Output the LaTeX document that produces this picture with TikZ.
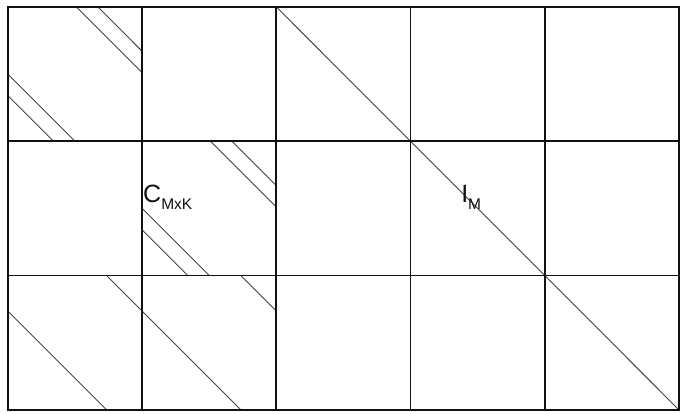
\documentclass[tikz,border=0pt]{standalone}
\usepackage{fontspec}
\setmainfont{Liberation Sans}
\definecolor{ink}{HTML}{111111}
\definecolor{mute}{HTML}{444444}
\tikzset{
  cell/.style = {draw=ink, line width=1.8pt},
  band/.style = {draw=mute, line width=0.9pt},
  lbl/.style  = {anchor=base west, inner sep=0pt, text=ink,
                 font=\fontsize{25}{30}\selectfont},
}
\newcommand{\lowsub}[1]{\raisebox{-7pt}{\fontsize{15.5}{18}\selectfont #1}}

\begin{document}
\begin{tikzpicture}[x=134.2pt, y=-134.3pt]
  \useasboundingbox (-0.0596,-0.0521) rectangle (5.0075,3.0305);

  % bands of the C blocks
  \foreach \k in {0,1} {
    \draw[band] (\k+0.51,\k) -- (\k+1,\k+0.49);
    \draw[band] (\k+0.67,\k) -- (\k+1,\k+0.33);
    \draw[band] (\k,\k+0.5) -- (\k+0.5,\k+1);
    \draw[band] (\k,\k+0.66) -- (\k+0.34,\k+1);
  }
  \draw[band] (0.735,2) -- (1.735,3);
  \draw[band] (0,2.265) -- (0.735,3);
  \draw[band] (1.735,2) -- (2,2.265);

  % identity block
  \draw[band] (2,0) -- (5,3);

  % grid of blocks
  \foreach \i in {0,...,4}
    \foreach \j in {0,1,2}
      \draw[cell] (\i,\j) rectangle ++(1,1);

  \node[lbl] (cmat)  at (1.006,1.452) {C\lowsub{MxK}};
  \node[lbl] (ident) at (3.376,1.452) {I\lowsub{M}};

\end{tikzpicture}
\end{document}
